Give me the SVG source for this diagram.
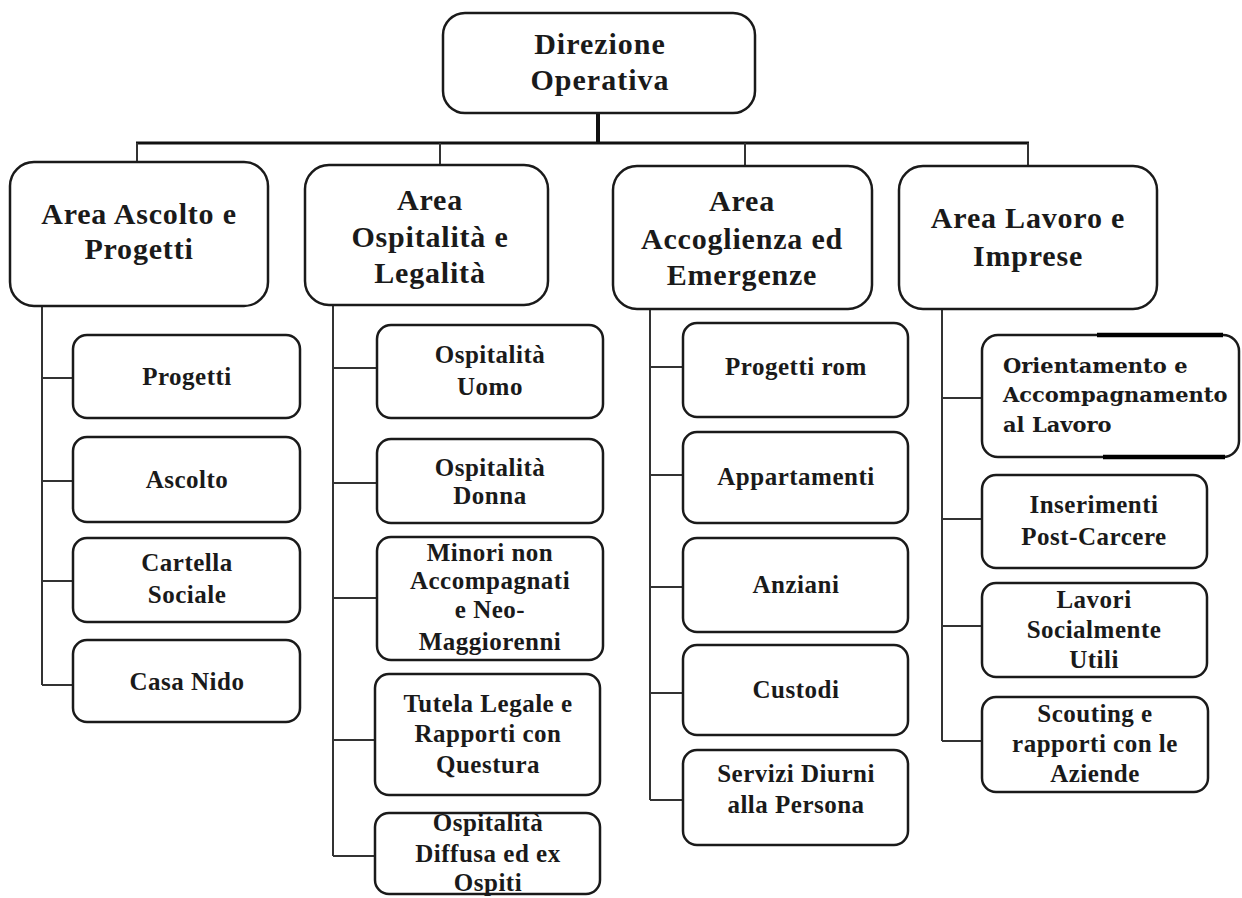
<svg xmlns="http://www.w3.org/2000/svg" width="1242" height="898" viewBox="0 0 1242 898">
<style>
.box{fill:#fff;stroke:#1a1a1a;stroke-width:2.5}
.con{fill:none;stroke:#333;stroke-width:2}
.t0{font-family:"Liberation Serif","Times New Roman",serif;font-weight:bold;font-size:30px;letter-spacing:1px;fill:#1a1a1a;text-anchor:middle}
.t1{font-family:"Liberation Serif","Times New Roman",serif;font-weight:bold;font-size:30px;letter-spacing:0.8px;fill:#1a1a1a;text-anchor:middle}
.t2{font-family:"Liberation Serif","Times New Roman",serif;font-weight:bold;font-size:25px;letter-spacing:0.5px;fill:#1a1a1a;text-anchor:middle}
.t3{font-family:"DejaVu Serif",serif;font-weight:bold;font-size:21px;fill:#1a1a1a}
</style>
<rect width="1242" height="898" fill="#fff"/>
<g id="connectors">
<line x1="598" y1="113" x2="598" y2="143" stroke="#111" stroke-width="4"/>
<line x1="136" y1="143" x2="1029" y2="143" stroke="#111" stroke-width="3"/>
<path class="con" d="M137 143V162M440 143V165M745 143V166M1028 143V166"/>
<path class="con" d="M42 306V685M42 378H73M42 481H73M42 581H73M42 685H73"/>
<path class="con" d="M333 305V856M333 368H377M333 483H377M333 598H377M333 740H377M333 856H377"/>
<path class="con" d="M650 309V800M650 367H683M650 475H683M650 587H683M650 693H683M650 800H683"/>
<path class="con" d="M942 309V741M942 398H982M942 519H982M942 626H982M942 741H982"/>
</g>
<g id="n-direzione">
<rect class="box" x="443" y="13" width="312" height="100" rx="22"/>
<text class="t0" x="600" y="54">Direzione</text>
<text class="t0" x="600" y="90">Operativa</text>
</g>
<g id="n-area1">
<rect class="box" x="10" y="162" width="258" height="144" rx="24"/>
<text class="t1" x="139" y="224">Area Ascolto e</text>
<text class="t1" x="139" y="259">Progetti</text>
</g>
<g id="n-area2">
<rect class="box" x="305" y="165" width="243" height="140" rx="24"/>
<text class="t1" x="430" y="210">Area</text>
<text class="t1" x="430" y="247">Ospitalità e</text>
<text class="t1" x="430" y="283">Legalità</text>
</g>
<g id="n-area3">
<rect class="box" x="613" y="166" width="259" height="143" rx="24"/>
<text class="t1" x="742" y="211">Area</text>
<text class="t1" x="742" y="249">Accoglienza ed</text>
<text class="t1" x="742" y="285">Emergenze</text>
</g>
<g id="n-area4">
<rect class="box" x="899" y="166" width="258" height="143" rx="24"/>
<text class="t1" x="1028" y="228">Area Lavoro e</text>
<text class="t1" x="1028" y="266">Imprese</text>
</g>
<g id="n-progetti">
<rect class="box" x="73" y="335" width="227" height="83" rx="14"/>
<text class="t2" x="187" y="385">Progetti</text>
</g>
<g id="n-ascolto">
<rect class="box" x="73" y="437" width="227" height="85" rx="14"/>
<text class="t2" x="187" y="488">Ascolto</text>
</g>
<g id="n-cartella">
<rect class="box" x="73" y="538" width="227" height="84" rx="14"/>
<text class="t2" x="187" y="571">Cartella</text>
<text class="t2" x="187" y="603">Sociale</text>
</g>
<g id="n-casanido">
<rect class="box" x="73" y="640" width="227" height="82" rx="14"/>
<text class="t2" x="187" y="690">Casa Nido</text>
</g>
<g id="n-ospuomo">
<rect class="box" x="377" y="325" width="226" height="93" rx="14"/>
<text class="t2" x="490" y="363">Ospitalità</text>
<text class="t2" x="490" y="395">Uomo</text>
</g>
<g id="n-ospdonna">
<rect class="box" x="377" y="439" width="226" height="84" rx="14"/>
<text class="t2" x="490" y="476">Ospitalità</text>
<text class="t2" x="490" y="504">Donna</text>
</g>
<g id="n-minori">
<rect class="box" x="377" y="537" width="226" height="123" rx="14"/>
<text class="t2" x="490" y="561">Minori non</text>
<text class="t2" x="490" y="589">Accompagnati</text>
<text class="t2" x="490" y="618">e Neo-</text>
<text class="t2" x="490" y="650">Maggiorenni</text>
</g>
<g id="n-tutela">
<rect class="box" x="375" y="674" width="225" height="121" rx="14"/>
<text class="t2" x="488" y="712">Tutela Legale e</text>
<text class="t2" x="488" y="742">Rapporti con</text>
<text class="t2" x="488" y="773">Questura</text>
</g>
<g id="n-ospdiffusa">
<rect class="box" x="375" y="813" width="225" height="81" rx="14"/>
<text class="t2" x="488" y="831">Ospitalità</text>
<text class="t2" x="488" y="862">Diffusa ed ex</text>
<text class="t2" x="488" y="891">Ospiti</text>
</g>
<g id="n-progettirom">
<rect class="box" x="683" y="323" width="225" height="94" rx="14"/>
<text class="t2" x="796" y="375">Progetti rom</text>
</g>
<g id="n-appartamenti">
<rect class="box" x="683" y="432" width="225" height="91" rx="14"/>
<text class="t2" x="796" y="485">Appartamenti</text>
</g>
<g id="n-anziani">
<rect class="box" x="683" y="538" width="225" height="94" rx="14"/>
<text class="t2" x="796" y="593">Anziani</text>
</g>
<g id="n-custodi">
<rect class="box" x="683" y="645" width="225" height="90" rx="14"/>
<text class="t2" x="796" y="698">Custodi</text>
</g>
<g id="n-servizi">
<rect class="box" x="683" y="750" width="225" height="95" rx="14"/>
<text class="t2" x="796" y="782">Servizi Diurni</text>
<text class="t2" x="796" y="813">alla Persona</text>
</g>
<g id="n-orientamento">
<rect class="box" x="982" y="335" width="257" height="122" rx="16"/>
<line x1="1097" y1="335" x2="1223" y2="335" stroke="#000" stroke-width="4.5"/>
<line x1="1103" y1="457" x2="1225" y2="457" stroke="#000" stroke-width="4.5"/>
<text class="t3" x="1003" y="373">Orientamento e</text>
<text class="t3" x="1003" y="402">Accompagnamento</text>
<text class="t3" x="1003" y="432">al Lavoro</text>
</g>
<g id="n-inserimenti">
<rect class="box" x="982" y="475" width="225" height="93" rx="14"/>
<text class="t2" x="1094" y="513">Inserimenti</text>
<text class="t2" x="1094" y="545">Post-Carcere</text>
</g>
<g id="n-lavori">
<rect class="box" x="982" y="583" width="225" height="94" rx="14"/>
<text class="t2" x="1094" y="608">Lavori</text>
<text class="t2" x="1094" y="638">Socialmente</text>
<text class="t2" x="1094" y="668">Utili</text>
</g>
<g id="n-scouting">
<rect class="box" x="982" y="697" width="226" height="95" rx="14"/>
<text class="t2" x="1095" y="722">Scouting e</text>
<text class="t2" x="1095" y="752">rapporti con le</text>
<text class="t2" x="1095" y="782">Aziende</text>
</g>
</svg>
